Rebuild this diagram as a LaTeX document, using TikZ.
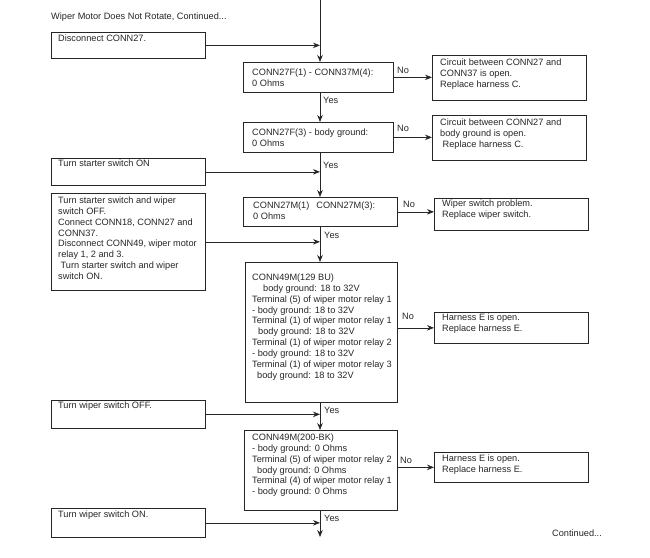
\documentclass[tikz,border=0pt]{standalone}
\usepackage{fontspec}
\setmainfont{Liberation Sans}
\usetikzlibrary{arrows.meta}
\begin{document}
\begin{tikzpicture}[x=1pt,y=-1pt,
  box/.style={draw=black!85, line width=0.7pt, rectangle, inner sep=0pt, anchor=north west},
  txt/.style={anchor=north west, inner sep=0pt, align=left, font=\fontsize{9.2}{10.9}\selectfont, text=black!85},
  lbl/.style={anchor=west, inner sep=0pt, font=\fontsize{9.2}{10.9}\selectfont, text=black!85},
  arr/.style={draw=black!85, line width=0.7pt, -{Stealth[length=7pt,width=5.5pt]}}]
\useasboundingbox (0,0) rectangle (650,557);
% boxes
\node[box, minimum width=154pt, minimum height=26pt] (L1) at (51,32) {};
\node[box, minimum width=154pt, minimum height=27pt] (L2) at (51,158) {};
\node[box, minimum width=154pt, minimum height=97pt] (L3) at (51,193) {};
\node[box, minimum width=154pt, minimum height=28pt] (L4) at (51,400) {};
\node[box, minimum width=154pt, minimum height=29pt] (L5) at (51,508) {};
\node[box, minimum width=150pt, minimum height=30pt] (C1) at (243,62) {};
\node[box, minimum width=150pt, minimum height=30pt] (C2) at (243,122) {};
\node[box, minimum width=154pt, minimum height=29pt] (C3) at (243,197) {};
\node[box, minimum width=152pt, minimum height=140pt] (C4) at (245,262) {};
\node[box, minimum width=153pt, minimum height=80pt] (C5) at (244,430) {};
\node[box, minimum width=154pt, minimum height=45pt] (R1) at (432,55) {};
\node[box, minimum width=154pt, minimum height=45pt] (R2) at (432,115) {};
\node[box, minimum width=154pt, minimum height=32pt] (R3) at (434,198) {};
\node[box, minimum width=154pt, minimum height=31pt] (R4) at (434,312) {};
\node[box, minimum width=154pt, minimum height=30pt] (R5) at (434,452) {};
% texts
\node[txt] (title) at (51,12.5) {Wiper Motor Does Not Rotate, Continued...};
\node[txt] (tL1) at (58,34.5) {Disconnect CONN27.};
\node[txt] (tL2) at (58,159.5) {Turn starter switch ON};
\node[txt] (tL3) at (58,196.5) {Turn starter switch and wiper\\switch OFF.\\Connect CONN18, CONN27 and\\CONN37.\\Disconnect CONN49, wiper motor\\relay 1, 2 and 3.\\\hspace{2.5pt}Turn starter switch and wiper\\switch ON.};
\node[txt] (tL4) at (58,401.5) {Turn wiper switch OFF.};
\node[txt] (tL5) at (58,510.5) {Turn wiper switch ON.};
\node[txt] (tC1) at (252,69) {CONN27F(1) - CONN37M(4):\\0 Ohms};
\node[txt] (tC2) at (252,129) {CONN27F(3) - body ground:\\0 Ohms};
\node[txt] (tC3) at (253,201.5) {CONN27M(1)\hspace{7pt}CONN27M(3):\\0 Ohms};
\node[txt] (tC4) at (252,273.5) {CONN49M(129 BU)\\\hspace{11pt}body ground: 18 to 32V\\Terminal (5) of wiper motor relay 1\\- body ground: 18 to 32V\\Terminal (1) of wiper motor relay 1\\\hspace{6pt}body ground: 18 to 32V\\Terminal (1) of wiper motor relay 2\\- body ground: 18 to 32V\\Terminal (1) of wiper motor relay 3\\\hspace{5pt}body ground: 18 to 32V};
\node[txt] (tC5) at (252,433.5) {CONN49M(200-BK)\\- body ground: 0 Ohms\\Terminal (5) of wiper motor relay 2\\\hspace{5pt}body ground: 0 Ohms\\Terminal (4) of wiper motor relay 1\\- body ground: 0 Ohms};
\node[txt] (tR1) at (440,58.5) {Circuit between CONN27 and\\CONN37 is open.\\Replace harness C.};
\node[txt] (tR2) at (440,118.5) {Circuit between CONN27 and\\body ground is open.\\\hspace{2.5pt}Replace harness C.};
\node[txt] (tR3) at (442,199.5) {Wiper switch problem.\\Replace wiper switch.};
\node[txt] (tR4) at (442,313.5) {Harness E is open.\\Replace harness E.};
\node[txt] (tR5) at (442,454.5) {Harness E is open.\\Replace harness E.};
\node[txt] (cont) at (552,529.5) {Continued...};
% main line
\coordinate (top) at (320,0);
\coordinate (bot) at (320,537);
\draw[arr] (top) -- (C1.north -| top);
\draw[arr] (C1.south -| top) -- (C2.north -| top);
\draw[arr] (C2.south -| top) -- (C3.north -| top);
\draw[arr] (C3.south -| top) -- (C4.north -| top);
\draw[arr] (C4.south -| top) -- (C5.north -| top);
\draw[arr] (C5.south -| top) -- (bot);
% incoming
\draw[arr] (L1.east) -- (L1.east -| top);
\draw[arr] (L2.east) -- (L2.east -| top);
\draw[arr] (L3.east) -- (L3.east -| top);
\draw[arr] (L4.east) -- (L4.east -| top);
\draw[arr] (L5.east) -- (L5.east -| top);
% no branches
\draw[arr] (C1.east) -- (C1.east -| R1.west);
\draw[arr] (C2.east) -- (C2.east -| R2.west);
\draw[arr] (C3.east) -- (C3.east -| R3.west);
\draw[arr] (C4.east |- R4.west) -- (R4.west);
\draw[arr] (C5.east |- R5.west) -- (R5.west);
% labels
\node[lbl] (y1) at (323,100) {Yes};
\node[lbl] (y2) at (323,165) {Yes};
\node[lbl] (y3) at (324,235) {Yes};
\node[lbl] (y4) at (324,410) {Yes};
\node[lbl] (y5) at (324,518) {Yes};
\node[lbl] (n1) at (397,70) {No};
\node[lbl] (n2) at (397,128) {No};
\node[lbl] (n3) at (403,204) {No};
\node[lbl] (n4) at (402,316) {No};
\node[lbl] (n5) at (400,460) {No};
\end{tikzpicture}
\end{document}
